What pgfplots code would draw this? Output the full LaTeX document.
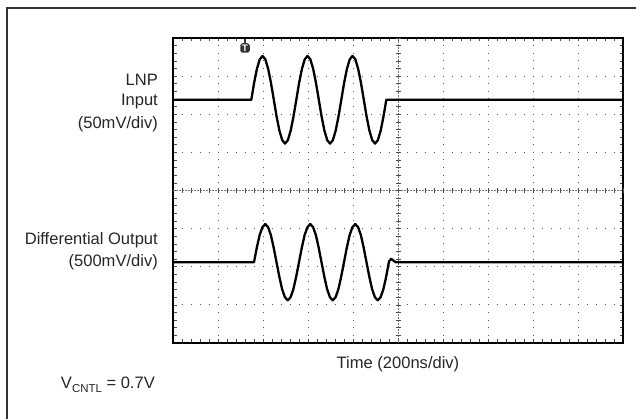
\documentclass[border=0pt]{standalone}
\usepackage{pgfplots}
\pgfplotsset{compat=1.18}
\usepackage{fontspec}
\setmainfont{Liberation Sans}
\begin{document}
\begin{tikzpicture}
\useasboundingbox (0,0) rectangle (636bp,419bp);
\fill[white] (0,0) rectangle (636bp,419bp);
\draw[black!80, line width=1.6bp] (7bp,-2bp) -- (7bp,411bp) -- (640bp,411bp);
\begin{axis}[
  at={(173bp,76bp)}, anchor=south west,
  scale only axis, width=450bp, height=305bp,
  xmin=0, xmax=10, ymin=-4, ymax=4,
  xtick={0,...,10}, ytick={-4,...,4},
  minor x tick num=4, minor y tick num=4,
  xticklabels={}, yticklabels={},
  tick align=inside, tick pos=both,
  major tick length=3.5bp, minor tick length=3.5bp,
  tick style={black!70, line width=0.6bp},
  grid=major,
  major x grid style={black!65, line width=1bp, dash pattern=on 1bp off 6.625bp, dash phase=0.5bp},
  major y grid style={black!65, line width=1bp, dash pattern=on 1bp off 8bp, dash phase=0.5bp},
  axis line style={black, line width=2.6bp},
  clip=false,
]
% center cross
\draw[black!55, line width=0.8bp, dash pattern=on 1.5bp off 1.5bp] (axis cs:5,-4) -- (axis cs:5,4);
\draw[black!55, line width=0.8bp, dash pattern=on 1.5bp off 1.5bp] (axis cs:0,0) -- (axis cs:10,0);
\pgfplotsinvokeforeach{-3.8,-3.6,...,3.9}{
  \draw[black!70, line width=0.6bp] ([xshift=-2.5bp]axis cs:5,#1) -- ([xshift=2.5bp]axis cs:5,#1);
}
\pgfplotsinvokeforeach{0.2,0.4,...,9.9}{
  \draw[black!70, line width=0.6bp] ([yshift=-2.5bp]axis cs:#1,0) -- ([yshift=2.5bp]axis cs:#1,0);
}
% LNP input trace
\addplot[black, line width=2.3bp, line join=round] coordinates {
(0,2.38)(1.74,2.38)
(1.8025,2.82)(1.865,3.19)(1.9275,3.44)(1.99,3.53)(2.0525,3.44)(2.115,3.19)(2.1775,2.82)(2.24,2.38)(2.3025,1.94)(2.365,1.57)(2.4275,1.32)(2.49,1.23)(2.5525,1.32)(2.615,1.57)(2.6775,1.94)
(2.74,2.38)(2.8025,2.82)(2.865,3.19)(2.9275,3.44)(2.99,3.53)(3.0525,3.44)(3.115,3.19)(3.1775,2.82)(3.24,2.38)(3.3025,1.94)(3.365,1.57)(3.4275,1.32)(3.49,1.23)(3.5525,1.32)(3.615,1.57)(3.6775,1.94)
(3.74,2.38)(3.8025,2.82)(3.865,3.19)(3.9275,3.44)(3.99,3.53)(4.0525,3.44)(4.115,3.19)(4.1775,2.82)(4.24,2.38)(4.3025,1.94)(4.365,1.57)(4.4275,1.32)(4.49,1.23)(4.5525,1.32)(4.615,1.57)(4.6775,1.94)
(4.74,2.38)(10,2.38)
};
% Differential output trace
\addplot[black, line width=2.3bp, line join=round] coordinates {
(0,-1.88)(1.8,-1.88)
(1.8625,-1.50)(1.925,-1.17)(1.9875,-0.96)(2.05,-0.88)(2.1125,-0.96)(2.175,-1.17)(2.2375,-1.50)(2.3,-1.88)(2.3625,-2.26)(2.425,-2.59)(2.4875,-2.80)(2.55,-2.88)(2.6125,-2.80)(2.675,-2.59)(2.7375,-2.26)
(2.8,-1.88)(2.8625,-1.50)(2.925,-1.17)(2.9875,-0.96)(3.05,-0.88)(3.1125,-0.96)(3.175,-1.17)(3.2375,-1.50)(3.3,-1.88)(3.3625,-2.26)(3.425,-2.59)(3.4875,-2.80)(3.55,-2.88)(3.6125,-2.80)(3.675,-2.59)(3.7375,-2.26)
(3.8,-1.88)(3.8625,-1.50)(3.925,-1.17)(3.9875,-0.96)(4.05,-0.88)(4.1125,-0.96)(4.175,-1.17)(4.2375,-1.50)(4.3,-1.88)(4.3625,-2.26)(4.425,-2.59)(4.4875,-2.80)(4.55,-2.88)(4.6125,-2.80)(4.675,-2.59)(4.7375,-2.26)
(4.8,-1.86)(4.85,-1.79)(4.9,-1.84)(4.95,-1.88)(10,-1.88)
};
% trigger marker
\draw[black!80, line width=1.2bp] ([yshift=-1bp]axis cs:1.6,4) -- ([yshift=-5bp]axis cs:1.6,4);
\node[fill=black!80, rounded corners=2.5bp, inner sep=0pt, minimum width=9.5bp, minimum height=9.5bp, text=white, font=\fontsize{9.5}{9.5}\selectfont\bfseries] at ([yshift=-10bp]axis cs:1.6,4) {T};
\end{axis}
\begin{scope}[every node/.style={inner sep=0pt, text=black!85, font=\fontsize{16.6}{16.6}\selectfont}]
\node[anchor=base east] at (158bp,333bp) {LNP};
\node[anchor=base east] at (158bp,313bp) {Input};
\node[anchor=base east] at (158bp,290bp) {(50mV/div)};
\node[anchor=base east] at (158bp,174.5bp) {Differential Output};
\node[anchor=base east] at (158bp,152bp) {(500mV/div)};
\node[anchor=base east] at (155bp,30.5bp) {V\raisebox{-0.45ex}{\fontsize{11.5}{11.5}\selectfont CNTL} = 0.7V};
\node[anchor=base] at (398bp,50bp) {Time (200ns/div)};
\end{scope}
\end{tikzpicture}
\end{document}
